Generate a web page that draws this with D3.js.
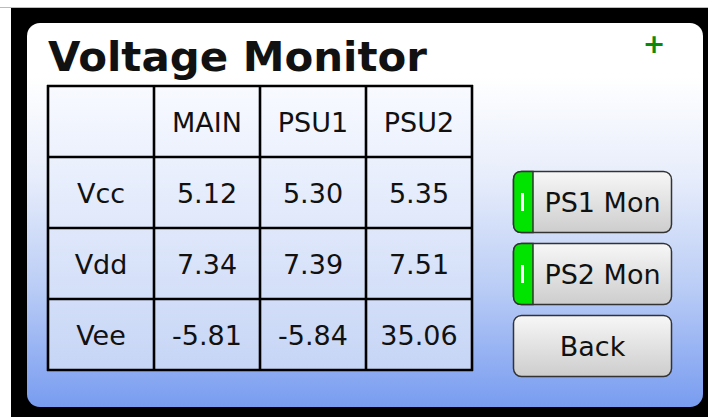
<!DOCTYPE html>
<html>
<head>
<meta charset="utf-8">
<script src="https://cdn.jsdelivr.net/npm/d3@7"></script>
<style>
  html, body { margin: 0; padding: 0; background: #fff; }
  svg { display: block; }
</style>
</head>
<body>
<div id="chart"></div>
<script>
// table contents
var columns = ["MAIN", "PSU1", "PSU2"];
var rows = ["Vcc", "Vdd", "Vee"];
var mainVals = ["5.12", "7.34", "-5.81"];
var psu1Vals = ["5.30", "7.39", "-5.84"];
var psu2Vals = ["5.35", "7.51", "35.06"];
// side buttons
var buttons = ["PS1 Mon", "PS2 Mon", "Back"];
var toggles = [true, true, false];

var W = 708, H = 417;
var font = "DejaVu Sans, Verdana, sans-serif";

var svg = d3.select("#chart").append("svg")
    .attr("width", W)
    .attr("height", H);

var defs = svg.append("defs");

var bg = defs.append("linearGradient").attr("id", "panelGrad")
    .attr("x1", 0).attr("y1", 0).attr("x2", 0).attr("y2", 1);
[["0%", "#ffffff"], ["14%", "#ffffff"], ["40%", "#e7edfb"], ["68%", "#bccef6"], ["100%", "#789cf0"]]
    .forEach(s => bg.append("stop").attr("offset", s[0]).attr("stop-color", s[1]));

var tg = defs.append("linearGradient").attr("id", "tableGrad")
    .attr("x1", 0).attr("y1", 0).attr("x2", 0).attr("y2", 1);
[["0%", "#f8faff"], ["100%", "#c6d5f6"]]
    .forEach(s => tg.append("stop").attr("offset", s[0]).attr("stop-color", s[1]));

var bgrad = defs.append("linearGradient").attr("id", "btnGrad")
    .attr("x1", 0).attr("y1", 0).attr("x2", 0).attr("y2", 1);
[["0%", "#f7f7f7"], ["100%", "#cdcdcd"]]
    .forEach(s => bgrad.append("stop").attr("offset", s[0]).attr("stop-color", s[1]));

// black frame
svg.append("line").attr("x1", 0).attr("x2", W).attr("y1", 7.5).attr("y2", 7.5)
    .attr("stroke", "#bbb").attr("stroke-width", 1);
svg.append("rect").attr("x", 11).attr("y", 8).attr("width", W - 11).attr("height", H - 8)
    .attr("fill", "#000");

// panel
svg.append("rect").attr("x", 27).attr("y", 23).attr("width", 676).attr("height", 384)
    .attr("rx", 13).attr("fill", "url(#panelGrad)");

svg.append("text").attr("x", 48).attr("y", 71)
    .attr("font-family", font).attr("font-weight", "bold").attr("font-size", 41)
    .attr("textLength", 379).attr("lengthAdjust", "spacingAndGlyphs")
    .attr("fill", "#111").text("Voltage Monitor");

// plus sign
svg.append("text").attr("x", 654).attr("y", 53).attr("text-anchor", "middle")
    .attr("font-family", font).attr("font-weight", "bold").attr("font-size", 27)
    .attr("fill", "#0a8a0a").text("+");

// table
var xScale = d3.scaleBand().domain([""].concat(columns)).range([48, 472]);
var yScale = d3.scaleBand().domain([""].concat(rows)).range([86, 370]);

var g = svg.append("g");
g.append("rect").attr("x", 48).attr("y", 86).attr("width", 424).attr("height", 284)
    .attr("fill", "url(#tableGrad)");

var cells = [];
columns.forEach(c => cells.push({ col: c, row: "", text: c }));
rows.forEach((r, i) => {
    cells.push({ col: "", row: r, text: r });
    cells.push({ col: "MAIN", row: r, text: mainVals[i] });
    cells.push({ col: "PSU1", row: r, text: psu1Vals[i] });
    cells.push({ col: "PSU2", row: r, text: psu2Vals[i] });
});

g.selectAll("text.cell").data(cells).enter().append("text")
    .attr("class", "cell")
    .attr("x", d => xScale(d.col) + xScale.bandwidth() / 2)
    .attr("y", d => yScale(d.row) + yScale.bandwidth() / 2 + 10)
    .attr("text-anchor", "middle")
    .attr("font-family", font).attr("font-size", 27)
    .attr("fill", "#111")
    .text(d => d.text);

g.selectAll("line.v").data(xScale.domain().concat(["end"])).enter().append("line")
    .attr("class", "v")
    .attr("x1", (d, i) => 48 + i * xScale.step())
    .attr("x2", (d, i) => 48 + i * xScale.step())
    .attr("y1", 85).attr("y2", 371)
    .attr("stroke", "#000").attr("stroke-width", 2.6);
g.selectAll("line.h").data(yScale.domain().concat(["end"])).enter().append("line")
    .attr("class", "h")
    .attr("y1", (d, i) => 86 + i * yScale.step())
    .attr("y2", (d, i) => 86 + i * yScale.step())
    .attr("x1", 47).attr("x2", 473)
    .attr("stroke", "#000").attr("stroke-width", 2.6);

// buttons
var bScale = d3.scaleBand().domain(buttons).range([171, 377]).paddingInner(10 / 72);
var bx = 513, bw = 159, gw = 20;

var btn = svg.selectAll("g.btn").data(buttons).enter().append("g")
    .attr("class", "btn")
    .attr("transform", d => `translate(${bx},${bScale(d)})`);

btn.append("rect")
    .attr("x", 0.5).attr("y", 0.5)
    .attr("width", bw - 1).attr("height", bScale.bandwidth() - 1)
    .attr("rx", 8).attr("fill", "url(#btnGrad)")
    .attr("stroke", "#333").attr("stroke-width", 1.5);

btn.filter((d, i) => toggles[i]).append("path")
    .attr("d", d => {
        var h = bScale.bandwidth() - 1, r = 8;
        return `M${gw},0.5 L${0.5 + r},0.5 Q0.5,0.5 0.5,${0.5 + r} L0.5,${h + 0.5 - r} Q0.5,${h + 0.5} ${0.5 + r},${h + 0.5} L${gw},${h + 0.5} Z`;
    })
    .attr("fill", "#00e400").attr("stroke", "#333").attr("stroke-width", 1.5);

btn.filter((d, i) => toggles[i]).append("rect")
    .attr("x", 8).attr("y", 22).attr("width", 3).attr("height", 18)
    .attr("fill", "#fff");

btn.append("text")
    .attr("x", (d, i) => toggles[i] ? gw + (bw - gw) / 2 : bw / 2)
    .attr("y", bScale.bandwidth() / 2 + 10)
    .attr("text-anchor", "middle")
    .attr("font-family", font).attr("font-size", 27)
    .attr("fill", "#111")
    .text(d => d);
</script>
</body>
</html>
